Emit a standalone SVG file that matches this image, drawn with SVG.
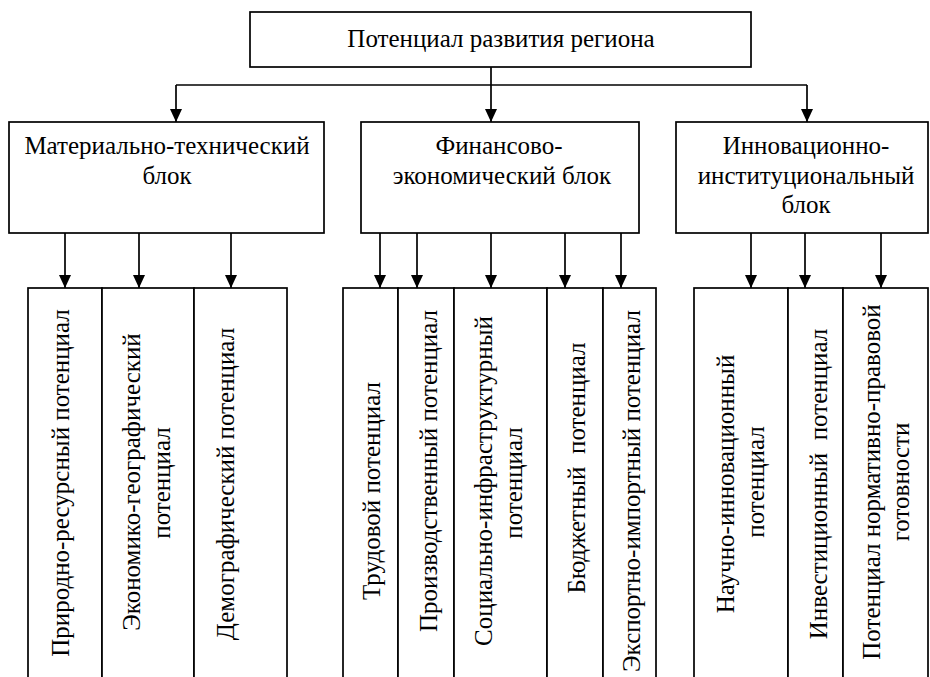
<svg xmlns="http://www.w3.org/2000/svg" width="930" height="677" viewBox="0 0 930 677">
<style>
.box{fill:#fff;stroke:#000;stroke-width:1.7}
.t{font-family:"Liberation Serif","Times New Roman",serif;font-size:25px;fill:#000;text-anchor:middle}
.c{fill:none;stroke:#000;stroke-width:1.7}
</style>
<defs>
<marker id="ah" markerUnits="userSpaceOnUse" markerWidth="13" markerHeight="12" viewBox="0 0 13 12" refX="13" refY="6" orient="auto">
<path d="M0,0 L13,6 L0,12 Z" fill="#000"/>
</marker>
</defs>
<rect width="930" height="677" fill="#fff"/>
<g id="connectors">
<path class="c" d="M176,85 H807"/>
<line class="c" x1="491" y1="67" x2="491" y2="122" marker-end="url(#ah)"/>
<line class="c" x1="176" y1="85" x2="176" y2="122" marker-end="url(#ah)"/>
<line class="c" x1="807" y1="85" x2="807" y2="122" marker-end="url(#ah)"/>
<line class="c" x1="65" y1="233" x2="65" y2="288" marker-end="url(#ah)"/>
<line class="c" x1="139" y1="233" x2="139" y2="288" marker-end="url(#ah)"/>
<line class="c" x1="231" y1="233" x2="231" y2="288" marker-end="url(#ah)"/>
<line class="c" x1="380" y1="233" x2="380" y2="288" marker-end="url(#ah)"/>
<line class="c" x1="417" y1="233" x2="417" y2="288" marker-end="url(#ah)"/>
<line class="c" x1="491" y1="233" x2="491" y2="288" marker-end="url(#ah)"/>
<line class="c" x1="565" y1="233" x2="565" y2="288" marker-end="url(#ah)"/>
<line class="c" x1="621" y1="233" x2="621" y2="288" marker-end="url(#ah)"/>
<line class="c" x1="751" y1="233" x2="751" y2="288" marker-end="url(#ah)"/>
<line class="c" x1="805" y1="233" x2="805" y2="288" marker-end="url(#ah)"/>
<line class="c" x1="881" y1="233" x2="881" y2="288" marker-end="url(#ah)"/>
</g>
<g id="root">
<rect class="box" x="250" y="12" width="501" height="55"/>
<text class="t" x="501" y="47">Потенциал развития региона</text>
</g>
<g id="block1">
<rect class="box" x="9" y="122" width="315" height="111"/>
<text class="t" x="167" y="154">Материально-технический</text>
<text class="t" x="167" y="184">блок</text>
</g>
<g id="block2">
<rect class="box" x="361" y="122" width="278" height="111"/>
<text class="t" x="499" y="154">Финансово-</text>
<text class="t" x="502" y="184">экономический блок</text>
</g>
<g id="block3">
<rect class="box" x="676" y="122" width="252" height="111"/>
<text class="t" x="806" y="154">Инновационно-</text>
<text class="t" x="806" y="184">институциональный</text>
<text class="t" x="806" y="213">блок</text>
</g>
<g id="n1">
<rect class="box" x="28" y="288" width="74" height="392"/>
<text class="t" transform="translate(69,483) rotate(-90)">Природно-ресурсный потенциал</text>
</g>
<g id="n2">
<rect class="box" x="102" y="288" width="92" height="392"/>
<text class="t" transform="translate(140,482) rotate(-90)">Экономико-географический</text>
<text class="t" transform="translate(170,483) rotate(-90)">потенциал</text>
</g>
<g id="n3">
<rect class="box" x="194" y="288" width="93" height="392"/>
<text class="t" transform="translate(234,484) rotate(-90)">Демографический потенциал</text>
</g>
<g id="n4">
<rect class="box" x="343" y="288" width="55" height="392"/>
<text class="t" transform="translate(380,491) rotate(-90)">Трудовой потенциал</text>
</g>
<g id="n5">
<rect class="box" x="398" y="288" width="56" height="392"/>
<text class="t" transform="translate(437,471) rotate(-90)">Производственный потенциал</text>
</g>
<g id="n6">
<rect class="box" x="454" y="288" width="93" height="392"/>
<text class="t" transform="translate(492,481) rotate(-90)">Социально-инфраструктурный</text>
<text class="t" transform="translate(522,483) rotate(-90)">потенциал</text>
</g>
<g id="n7">
<rect class="box" x="547" y="288" width="56" height="392"/>
<text class="t" xml:space="preserve" transform="translate(585,468) rotate(-90)">Бюджетный  потенциал</text>
</g>
<g id="n8">
<rect class="box" x="603" y="288" width="53" height="392"/>
<text class="t" transform="translate(640,491) rotate(-90)">Экспортно-импортный потенциал</text>
</g>
<g id="n9">
<rect class="box" x="694" y="288" width="94" height="392"/>
<text class="t" transform="translate(734,484) rotate(-90)">Научно-инновационный</text>
<text class="t" transform="translate(764,482) rotate(-90)">потенциал</text>
</g>
<g id="n10">
<rect class="box" x="788" y="288" width="55" height="392"/>
<text class="t" xml:space="preserve" transform="translate(827,484) rotate(-90)">Инвестиционный  потенциал</text>
</g>
<g id="n11">
<rect class="box" x="843" y="288" width="85" height="392"/>
<text class="t" transform="translate(880,482) rotate(-90)">Потенциал нормативно-правовой</text>
<text class="t" transform="translate(909,482) rotate(-90)">готовности</text>
</g>
</svg>
